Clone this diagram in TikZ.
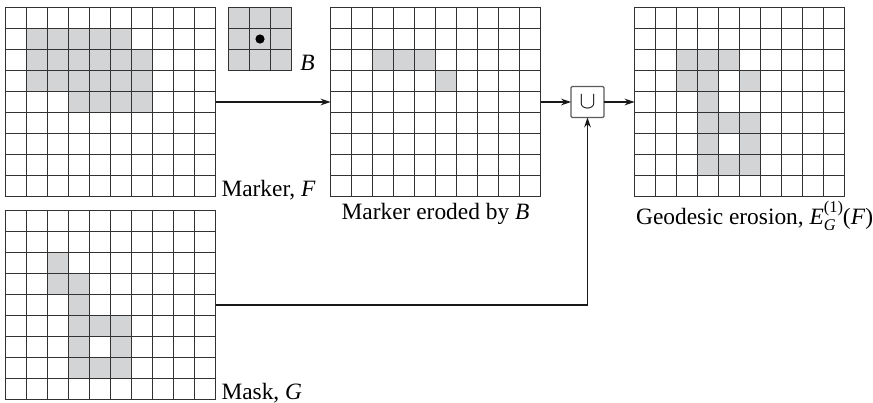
\documentclass[tikz,border=0pt]{standalone}
\usepackage{amsmath}
\usepackage{fontspec}
\setmainfont{Liberation Serif}
\usepackage{tikz}
\usetikzlibrary{arrows.meta, positioning}
\definecolor{cellgray}{RGB}{211,212,214}
\definecolor{linegray}{RGB}{50,50,50}
\tikzset{every picture/.style={/utils/exec={\fontsize{11.7}{14}\selectfont}}}

\newcommand{\cellsz}{21}
% #1 node, #2 columns, #3 rows, #4 shaded cells row/col
\newcommand{\cellgrid}[4]{%
  \begin{scope}[shift={(#1.north west)}]
    \foreach \r/\c in {#4}
      \fill[cellgray] (\c*\cellsz,\r*\cellsz) rectangle ++(\cellsz,\cellsz);
    \foreach \i in {0,...,#2}
      \draw[gridline] (\i*\cellsz,0) -- (\i*\cellsz,#3*\cellsz);
    \foreach \j in {0,...,#3}
      \draw[gridline] (0,\j*\cellsz) -- (#2*\cellsz,\j*\cellsz);
  \end{scope}}

\begin{document}
\begin{tikzpicture}[x=0.5pt, y=-0.5pt, >={Stealth[length=5pt, width=3.4pt]},
    every node/.style={inner sep=0pt, outer sep=0pt},
    gridbox/.style={minimum width=105pt, minimum height=94.5pt},
    sebox/.style={minimum width=31.5pt, minimum height=31.5pt},
    gridline/.style={linegray, line width=0.55pt, line cap=rect},
    link/.style={->, black!90, line width=0.55pt}]
        \useasboundingbox (0,0) rectangle (873,402);

        % Nodes
        \node[gridbox] (F) at (110.5, 102) {};
        \node[gridbox] (G) at (110.5, 305) {};
        \node[sebox] (B) at (260, 39) {};
        \node[gridbox] (FB) at (435.5, 102) {};
        \node[draw=linegray!80, line width=0.6pt, rounded corners=0.6pt,
              minimum width=16.5pt, minimum height=15.5pt] (U) at (587.5, 102) {\large$\cup$};
        \node[gridbox] (EG) at (739.5, 102) {};

        % Grids
        \cellgrid{F}{10}{9}{1/1,1/2,1/3,1/4,1/5,2/1,2/2,2/3,2/4,2/5,2/6,3/1,3/2,3/3,3/4,3/5,3/6,4/3,4/4,4/5,4/6}
        \cellgrid{G}{10}{9}{2/2,3/2,3/3,4/3,5/3,5/4,5/5,6/3,6/5,7/3,7/4,7/5}
        \cellgrid{B}{3}{3}{0/0,0/1,0/2,1/0,1/1,1/2,2/0,2/1,2/2}
        \cellgrid{FB}{10}{9}{2/2,2/3,2/4,3/5}
        \cellgrid{EG}{10}{9}{2/2,2/3,2/4,3/2,3/3,3/5,4/3,5/3,5/4,5/5,6/3,6/5,7/3,7/4,7/5}
        \fill (B) circle[radius=2.3pt];

        % Labels
        \node[anchor=base west] (lF) at ([xshift=3pt]F.south east) {Marker, \textit{F}};
        \node[anchor=base west] (lG) at ([xshift=3pt]G.south east) {Mask, \textit{G}};
        \node[anchor=base west] (lB) at ([xshift=4.4pt]B.south east) {\textit{B}};
        \node[anchor=base] (lFB) at ([yshift=-11.5pt]FB.south) {Marker eroded by \textit{B}};
        \node[anchor=base west] (lEG) at ([xshift=0.8pt, yshift=-14pt]EG.south west)
              {Geodesic erosion, \textit{E}$^{\textrm{(1)}}_{\textit{G}}$\kern-0.5pt(\textit{F})};

        % Directed edges
        \draw[link] (F) -- (FB);
        \draw[link] (FB) -- (U);
        \draw[link] (U) -- (EG);
        \draw[link] (G) -| (U);
    \end{tikzpicture}
\end{document}
